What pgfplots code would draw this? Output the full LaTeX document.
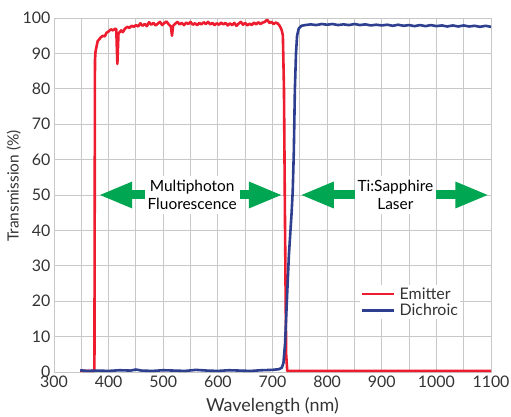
\documentclass[border=0pt]{standalone}
\usepackage{fontspec}
\setmainfont{Lato}
\usepackage{pgfplots}
\pgfplotsset{compat=1.18}
\usetikzlibrary{arrows.meta}
\definecolor{emit}{HTML}{ED1C2E}
\definecolor{dich}{HTML}{2E3F8F}
\definecolor{arr}{HTML}{00A651}
\definecolor{gridc}{HTML}{C8C8C8}
\definecolor{txt}{HTML}{333333}
\begin{document}
\begin{tikzpicture}
\begin{axis}[
  scale only axis, width=437bp, height=354bp,
  xmin=300, xmax=1100, ymin=0, ymax=100,
  xtick={300,400,...,1100}, minor xtick={350,450,...,1050},
  ytick={0,10,...,100},
  grid=both,
  major grid style={gridc, line width=0.9bp},
  minor grid style={gridc, line width=0.9bp},
  axis line style={gridc, line width=0.9bp},
  major tick length=0pt, minor tick length=0pt,
  /pgf/number format/assume math mode=true,
  /pgf/number format/1000 sep={},
  tick label style={font=\fontsize{16}{18}\selectfont, text=txt},
  xticklabel style={yshift=0bp},
  xlabel={Wavelength (nm)}, ylabel={Transmission (\%)},
  xlabel style={font=\fontsize{18}{20}\selectfont, text=txt, yshift=-4bp},
  ylabel style={font=\fontsize{15.5}{18}\selectfont, text=txt, yshift=-5bp, xshift=9bp},
  legend style={at={(0.70,0.245)}, anchor=north west, draw=none, fill=white,
    font=\fontsize{16}{18}\selectfont, text=txt, row sep=1.5bp, column sep=3bp,
    inner sep=1bp, nodes={inner sep=1bp}},
  legend cell align=left,
  legend image code/.code={\draw[#1] (0bp,0bp) -- (32bp,0bp);},
]
\addplot[emit, line width=2.6bp, line join=round] coordinates {
(348,0.3)(374,0.3)(375,88)(376,90.5)(378,92)(380,93.5)(383,94)(386,94.6)(390,95)(393,94.8)
(396,95.8)(400,96.2)(404,96.8)(408,96.5)(412,97)(414,96.8)(416,87)(418,95.5)(420,96)(423,96.5)
(426,96)(430,97)(434,97.5)(438,97.2)(442,97.8)(446,97.5)(450,98)(454,97.6)(458,98.5)(462,97.8)
(466,98.3)(470,97.7)(474,98.8)(478,98.1)(482,98.6)(486,97.9)(490,98.4)(494,98.9)(498,98.0)(502,98.6)
(506,99.0)(510,98.2)(514,97.6)(516,95.0)(518,97.8)(522,98.4)(526,98.9)(530,98.2)(534,98.6)(538,98.0)
(542,98.7)(546,98.3)(550,98.9)(554,98.1)(558,98.5)(562,98.0)(566,98.6)(570,98.2)(574,98.8)(578,98.3)
(582,98.9)(586,98.2)(590,98.6)(594,98.0)(598,98.5)(602,98.1)(606,98.7)(610,98.2)(614,98.6)(618,97.9)
(622,98.5)(626,98.0)(630,98.6)(634,97.8)(638,98.4)(642,98.9)(646,98.1)(650,98.6)(654,97.9)(658,98.4)
(662,98.0)(666,98.7)(670,98.2)(674,98.8)(678,98.3)(682,98.7)(686,98.9)(690,99.5)(692,99.2)(694,98.6)
(698,98.9)(702,98.3)(706,98.7)(710,98.4)(713,97.8)(715,97.2)(717,96.5)(719,95)(721,80)(723,40)
(725,5)(727,0.3)(1100,0.3)
};
\addlegendentry{Emitter}
\addplot[dich, line width=2.6bp, line join=round] coordinates {
(348,0.5)(360,0.3)(380,0.4)(400,0.3)(420,0.5)(440,0.4)(450,0.7)(460,0.4)(480,0.3)(500,0.5)
(520,0.4)(540,0.3)(560,0.6)(580,0.4)(600,0.3)(620,0.5)(640,0.4)(660,0.3)(680,0.5)(700,0.6)
(712,0.8)(717,1.2)(720,2.5)(723,8)(726,19)(730,33)(735,45)(737,51)(739,62)(741,80)
(743,90)(745,95)(748,97)(753,97.8)(760,98.0)(770,98.2)(780,98.0)(790,98.3)(800,98.1)(810,98.3)
(820,98.0)(830,98.2)(840,98.0)(850,98.3)(860,98.0)(870,98.2)(880,97.9)(890,98.1)(900,97.9)(910,98.1)
(920,97.8)(930,98.1)(940,97.8)(950,98.0)(960,97.7)(970,98.0)(980,97.7)(990,98.0)(1000,97.7)(1010,97.9)
(1020,97.6)(1030,97.9)(1040,97.6)(1050,97.9)(1060,97.6)(1070,97.8)(1080,97.5)(1090,97.8)(1100,97.5)
};
\addlegendentry{Dichroic}
\draw[arr, line width=9bp, {Triangle[length=34bp,width=24bp]}-{Triangle[length=34bp,width=24bp]}]
  (axis cs:381,50) -- (axis cs:719,50);
\draw[arr, line width=9bp, {Triangle[length=34bp,width=24bp]}-{Triangle[length=34bp,width=24bp]}]
  (axis cs:750,50) -- (axis cs:1097,50);
\node[fill=white, align=center, text=black, inner xsep=3bp, inner ysep=4bp,
  font=\fontsize{15.5}{18}\selectfont] at (axis cs:553,50) {Multiphoton\\Fluorescence};
\node[fill=white, align=center, text=black, inner xsep=3bp, inner ysep=4bp,
  font=\fontsize{15.5}{18}\selectfont] at (axis cs:925,50) {Ti:Sapphire\\Laser};
\end{axis}
\pgfresetboundingbox
\path[use as bounding box] (current axis.south west) ++(-54bp,-45bp) rectangle ([shift={(20bp,18bp)}]current axis.north east);
\end{tikzpicture}
\end{document}
